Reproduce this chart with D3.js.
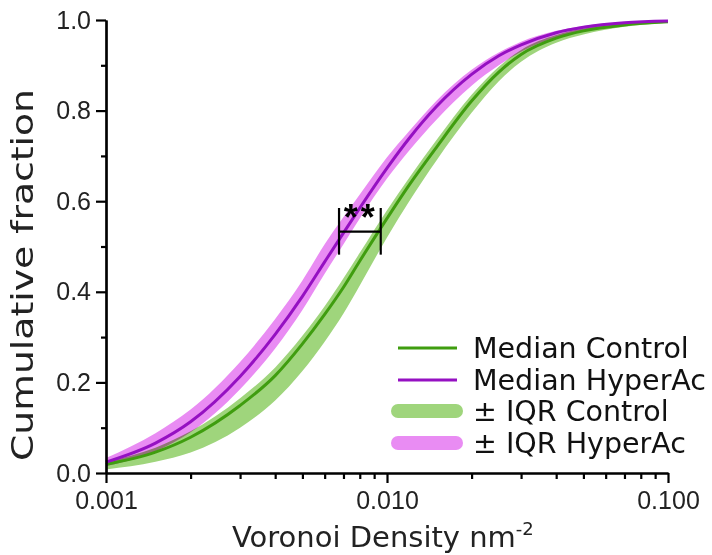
<!DOCTYPE html>
<html>
<head>
<meta charset="utf-8">
<script src="https://cdn.jsdelivr.net/npm/d3@7"></script>
<style>
  html, body { margin: 0; padding: 0; background: #fff; }
  svg { display: block; }
  .band { mix-blend-mode: multiply; }
</style>
</head>
<body>
<svg id="chart" width="712" height="555"></svg>
<script>
// Voronoi density (nm^-2) sample points
const density = [0.001, 0.0015, 0.002, 0.003, 0.004, 0.005, 0.006, 0.007, 0.008,
                 0.01, 0.012, 0.015, 0.02, 0.025, 0.03, 0.04, 0.05, 0.07, 0.1];

// Cumulative fraction, control
const controlMedian = [0.019, 0.046, 0.079, 0.149, 0.215, 0.285, 0.350, 0.410, 0.468,
                       0.562, 0.636, 0.719, 0.821, 0.885, 0.924, 0.960, 0.976, 0.989, 0.996];
const controlLow    = [0.008, 0.025, 0.045, 0.100, 0.160, 0.225, 0.290, 0.352, 0.414,
                       0.520, 0.600, 0.690, 0.795, 0.865, 0.908, 0.950, 0.968, 0.985, 0.994];
const controlHigh   = [0.025, 0.056, 0.092, 0.165, 0.233, 0.303, 0.368, 0.430, 0.486,
                       0.580, 0.652, 0.735, 0.835, 0.897, 0.934, 0.967, 0.981, 0.992, 0.998];

// Cumulative fraction, hyperacetylated
const hyperMedian = [0.024, 0.066, 0.113, 0.213, 0.306, 0.390, 0.466, 0.530, 0.585,
                     0.673, 0.739, 0.809, 0.880, 0.921, 0.945, 0.972, 0.984, 0.994, 0.998];
const hyperLow    = [0.015, 0.048, 0.090, 0.185, 0.275, 0.360, 0.440, 0.505, 0.562,
                     0.650, 0.712, 0.780, 0.855, 0.900, 0.930, 0.962, 0.977, 0.989, 0.995];
const hyperHigh   = [0.033, 0.088, 0.140, 0.245, 0.340, 0.425, 0.505, 0.565, 0.615,
                     0.697, 0.755, 0.822, 0.890, 0.928, 0.952, 0.976, 0.987, 0.995, 0.999];

const yTicks = [0, 0.2, 0.4, 0.6, 0.8, 1.0];
const yMinorTicks = [0.1, 0.3, 0.5, 0.7, 0.9];
const xTicks = [0.001, 0.01, 0.1];
const xMinorTicks = [0.002, 0.003, 0.004, 0.005, 0.006, 0.007, 0.008, 0.009,
                     0.02, 0.03, 0.04, 0.05, 0.06, 0.07, 0.08, 0.09];

// Significance bracket between the two medians
const bracketX = [0.00675, 0.0095];
const bracketY = 0.533;
const bracketSpan = [0.482, 0.585];
const bracketLabel = "**";

const legendLabels = ["Median Control", "Median HyperAc", "\u00B1 IQR Control", "\u00B1 IQR HyperAc"];

const colors = {
  controlLine: "#3f9d0f",
  hyperLine: "#9510c2",
  controlBand: "#9fd57c",
  hyperBand: "#e98cf3"
};

const svg = d3.select("#chart");
const plotLeft = 106, plotRight = 668, plotTop = 20, plotBottom = 473;

const x = d3.scaleLog().domain([0.001, 0.1]).range([plotLeft, plotRight]);
const y = d3.scaleLinear().domain([0, 1]).range([plotBottom, plotTop]);

const pts = (vals) => density.map((d, i) => [d, vals[i]]);

const area = (lo, hi) => d3.area()
  .x((d, i) => x(density[i]))
  .y0((d, i) => y(lo[i]))
  .y1((d, i) => y(hi[i]))
  .curve(d3.curveMonotoneX)(density);

const line = d3.line()
  .x(d => x(d[0]))
  .y(d => y(d[1]))
  .curve(d3.curveMonotoneX);

// IQR bands
svg.append("path").attr("class", "band")
  .attr("d", area(controlLow, controlHigh))
  .attr("fill", colors.controlBand);
svg.append("path").attr("class", "band")
  .attr("d", area(hyperLow, hyperHigh))
  .attr("fill", colors.hyperBand);

// Median curves
svg.append("path").attr("d", line(pts(controlMedian)))
  .attr("fill", "none").attr("stroke", colors.controlLine).attr("stroke-width", 3);
svg.append("path").attr("d", line(pts(hyperMedian)))
  .attr("fill", "none").attr("stroke", colors.hyperLine).attr("stroke-width", 3);

// Axes
const tickFont = "'Liberation Sans', Arial, sans-serif";
const styleAxis = g => {
  g.select(".domain").attr("stroke", "#000").attr("stroke-width", 2.2);
  g.selectAll(".tick line").attr("stroke", "#000").attr("stroke-width", 2.2);
  g.selectAll(".tick text").attr("font-family", tickFont).attr("font-size", 25).attr("fill", "#222");
};

const yAxis = svg.append("g").attr("transform", `translate(${plotLeft},0)`)
  .call(d3.axisLeft(y).tickValues(yTicks).tickFormat(d3.format(".1f")).tickSize(10).tickPadding(5).tickSizeOuter(0));
styleAxis(yAxis);
const yMinor = svg.append("g").attr("transform", `translate(${plotLeft},0)`)
  .call(d3.axisLeft(y).tickValues(yMinorTicks).tickFormat("").tickSize(5).tickSizeOuter(0));
styleAxis(yMinor);

const xAxis = svg.append("g").attr("transform", `translate(0,${plotBottom})`)
  .call(d3.axisBottom(x).tickValues(xTicks).tickFormat(d3.format(".3f")).tickSize(10).tickPadding(8).tickSizeOuter(0));
styleAxis(xAxis);
const xMinor = svg.append("g").attr("transform", `translate(0,${plotBottom})`)
  .call(d3.axisBottom(x).tickValues(xMinorTicks).tickFormat("").tickSize(6).tickSizeOuter(0));
styleAxis(xMinor);

// Axis titles
const titleFont = "'DejaVu Sans', Verdana, sans-serif";
const xt = svg.append("text")
  .attr("x", 232).attr("y", 547)
  .attr("font-family", titleFont).attr("font-size", 29).attr("fill", "#222");
xt.append("tspan").text("Voronoi Density nm");
xt.append("tspan").attr("dy", -12).attr("font-size", 18).text("-2");

svg.append("text")
  .attr("transform", `translate(33,${(88 + 462) / 2}) rotate(-90)`)
  .attr("text-anchor", "middle")
  .attr("font-family", titleFont).attr("font-size", 30).attr("fill", "#222")
  .attr("textLength", 372).attr("lengthAdjust", "spacingAndGlyphs")
  .text("Cumulative fraction");

// Significance bracket
const bx0 = x(bracketX[0]), bx1 = x(bracketX[1]);
const br = svg.append("g").attr("stroke", "#000").attr("stroke-width", 2.2).attr("fill", "none");
br.append("line").attr("x1", bx0).attr("x2", bx1).attr("y1", y(bracketY)).attr("y2", y(bracketY));
br.append("line").attr("x1", bx0).attr("x2", bx0).attr("y1", y(bracketSpan[0])).attr("y2", y(bracketSpan[1]));
br.append("line").attr("x1", bx1).attr("x2", bx1).attr("y1", y(bracketSpan[0])).attr("y2", y(bracketSpan[1]));
svg.append("text")
  .attr("x", (bx0 + bx1) / 2 + 1).attr("y", y(bracketSpan[1]) + 22)
  .attr("text-anchor", "middle")
  .attr("font-family", tickFont).attr("font-weight", "bold").attr("font-size", 36)
  .attr("letter-spacing", 3)
  .text(bracketLabel);

// Legend
const legend = svg.append("g");
const legendRows = [
  { y: 348, stroke: colors.controlLine, width: 3, cap: "butt", x2: 457 },
  { y: 380, stroke: colors.hyperLine, width: 3, cap: "butt", x2: 457 },
  { y: 411, stroke: colors.controlBand, width: 14, cap: "round", x2: 456 },
  { y: 443, stroke: colors.hyperBand, width: 14, cap: "round", x2: 456 }
];
legendRows.forEach((r, i) => {
  legend.append("line")
    .attr("x1", 398).attr("x2", r.x2).attr("y1", r.y).attr("y2", r.y)
    .attr("stroke", r.stroke).attr("stroke-width", r.width).attr("stroke-linecap", r.cap);
  legend.append("text")
    .attr("x", 473).attr("y", r.y + 10)
    .attr("font-family", titleFont).attr("font-size", 28.5).attr("fill", "#111")
    .text(legendLabels[i]);
});
</script>
</body>
</html>
